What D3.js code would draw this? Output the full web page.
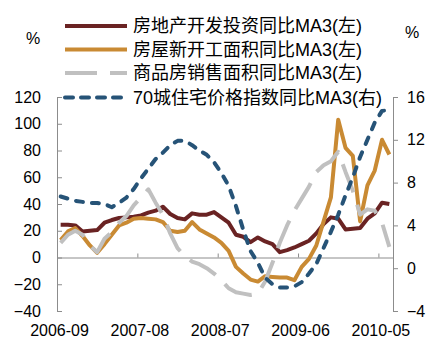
<!DOCTYPE html>
<html>
<head>
<meta charset="utf-8">
<script src="https://cdn.jsdelivr.net/npm/d3@7"></script>
<style>
  html, body { margin: 0; padding: 0; background: #fff; }
  svg { display: block; }
  text { font-family: "Liberation Sans", Arial, "Noto Sans CJK SC", sans-serif; fill: #000; }
</style>
</head>
<body>
<svg id="chart" width="444" height="351"></svg>
<script>
// ---- Data ----
const months = d3.utcMonths(new Date(Date.UTC(2006, 8, 1)), new Date(Date.UTC(2010, 6, 1)))
  .map(d3.utcFormat("%Y-%m"));   // 2006-09 ... 2010-06 (46 months)

const investment = [24.5, 24.5, 24, 19.5, 20, 20.5, 26, 28, 29.5, 30, 30.5, 31.5, 33.5, 35, 38, 32.5,
  29.5, 28.5, 33, 32, 32, 34, 30, 26, 17, 15.5, 11.5, 15, 12, 10, 4, 5.5, 7.5, 10, 12.5, 18,
  25, 30, 29, 21, 21.5, 22, 29, 33, 41, 40];

const newStarts = [13, 19.5, 22, 16, 9, 3.5, 10, 17, 24, 26, 29, 29.5, 29, 28.5, 26.5, 20,
  19, 20, 26.5, 21, 18, 15, 11, 5, -7, -12, -16.5, -18, -14, -14.5, -15, -15, -17, -7, -1, 9,
  27, 45, 103, 82, 76, 27, 54, 65, 88, 77];

const salesArea = [11, 17, 20, 17, 9, 4, 14, 19, 26, 31, 39, 45, 51, 41, 32, 18,
  7, 1, -3, -5, -8, -12, -17, -23, -26, -27, -28, -27, -18, -4, 11, 24, 35, 44, 53, 64,
  69, 72, 79, 64, 50, 32, 36, 35, 26, 8];

const priceIndex = [6.7, 6.5, 6.3, 6.2, 6.1, 6.1, 6.0, 5.7, 6.1, 6.6, 7.4, 8.4, 9.3, 10.2, 10.8, 11.5,
  11.9, 11.9, 11.5, 11.0, 10.6, 9.9, 8.9, 7.7, 5.8, 3.6, 1.6, 0.5, -0.9, -1.5, -1.8, -1.8, -1.7, -1.3, -0.5, 0.4,
  1.9, 3.4, 5.0, 6.8, 8.5, 10.4, 12.0, 13.6, 14.7, 14.8];

const seriesNames = ["房地产开发投资同比MA3(左)", "房屋新开工面积同比MA3(左)", "商品房销售面积同比MA3(左)", "70城住宅价格指数同比MA3(右)"];
const leftTicks = [-40, -20, 0, 20, 40, 60, 80, 100, 120];
const rightTicks = [-4, 0, 4, 8, 12, 16];
const xTickLabels = ["2006-09", "2007-08", "2008-07", "2009-06", "2010-05"];

// ---- Layout / styles ----
const svg = d3.select("#chart");
const L = 57, R = 393, T = 97, B = 311;
const axisColor = "#8c8c8c";
const fmt = v => (v < 0 ? "\u2212" + Math.abs(v) : String(v));

const x = d3.scaleBand().domain(months).range([L, R]);
const xt = d3.scaleLinear().domain([0, months.length]).range([L, R]);
const yL = d3.scaleLinear().domain([-40, 120]).range([B, T]);
const yR = d3.scaleLinear().domain([-4, 16]).range([B, T]);

const styles = [
  { color: "#6a2323", dash: null, cap: "butt", axis: "L", data: investment },
  { color: "#c98a33", dash: null, cap: "butt", axis: "L", data: newStarts },
  { color: "#c0c0c0", dash: "30,13", cap: "butt", axis: "L", data: salesArea },
  { color: "#265377", dash: "7,9", cap: "round", axis: "R", data: priceIndex }
];

function styleAxis(g) {
  g.selectAll("path, line").attr("stroke", axisColor).attr("stroke-width", 1);
  g.selectAll("text").attr("font-size", 16).attr("fill", "#000")
    .attr("font-family", '"Liberation Sans", Arial, sans-serif');
}

// Left axis (ticks pointing inward)
svg.append("g").attr("transform", `translate(${L},0)`)
  .call(d3.axisLeft(yL).tickValues(leftTicks).tickFormat(fmt).tickSizeInner(-5).tickSizeOuter(0).tickPadding(16))
  .call(styleAxis);

// Right axis (ticks pointing outward)
svg.append("g").attr("transform", `translate(${R},0)`)
  .call(d3.axisRight(yR).tickValues(rightTicks).tickFormat(fmt).tickSizeInner(5).tickSizeOuter(0).tickPadding(9))
  .call(styleAxis);

// Zero line with small upward ticks
const tickIdx = xTickLabels.map(s => months.indexOf(s));
svg.append("g").attr("transform", `translate(0,${yL(0)})`)
  .call(d3.axisBottom(xt).tickValues(tickIdx).tickFormat("").tickSizeInner(-4).tickSizeOuter(0))
  .call(styleAxis);

// Category labels at the bottom
svg.append("g").attr("transform", `translate(2,${B})`)
  .call(d3.axisBottom(xt).tickValues(tickIdx).tickFormat(i => months[i]).tickSize(0).tickPadding(14))
  .call(styleAxis)
  .call(g => g.select(".domain").remove());

// Series lines
styles.forEach(s => {
  const yS = s.axis === "L" ? yL : yR;
  const line = d3.line()
    .x((d, i) => x(months[i]) + x.bandwidth() / 2)
    .y(d => yS(d));
  svg.append("path")
    .datum(s.data)
    .attr("d", line)
    .attr("fill", "none")
    .attr("stroke", s.color)
    .attr("stroke-width", 4)
    .attr("stroke-linejoin", "round")
    .attr("stroke-linecap", s.cap)
    .attr("stroke-dasharray", s.dash);
});

// Unit labels
svg.append("text").attr("x", 33).attr("y", 44).attr("text-anchor", "middle").attr("font-size", 16).text("%");
svg.append("text").attr("x", 412).attr("y", 38).attr("text-anchor", "middle").attr("font-size", 16).text("%");

// Legend
const legRows = [26, 49.5, 73, 97.5];
const leg = svg.append("g");
seriesNames.forEach((name, i) => {
  const s = styles[i];
  leg.append("rect").attr("x", 130).attr("y", legRows[i] - 11).attr("width", i === 3 ? 262 : 242).attr("height", 22).attr("fill", "#fff");
  leg.append("line")
    .attr("x1", 65).attr("x2", 127).attr("y1", legRows[i]).attr("y2", legRows[i])
    .attr("stroke", s.color).attr("stroke-width", 4)
    .attr("stroke-linecap", s.cap)
    .attr("stroke-dasharray", s.dash === null ? null : (i === 2 ? "32,13" : "8,8"));
  leg.append("text")
    .attr("x", 133).attr("y", legRows[i])
    .attr("dy", "0.36em")
    .attr("font-size", 18)
    .text(name);
});
</script>
</body>
</html>
